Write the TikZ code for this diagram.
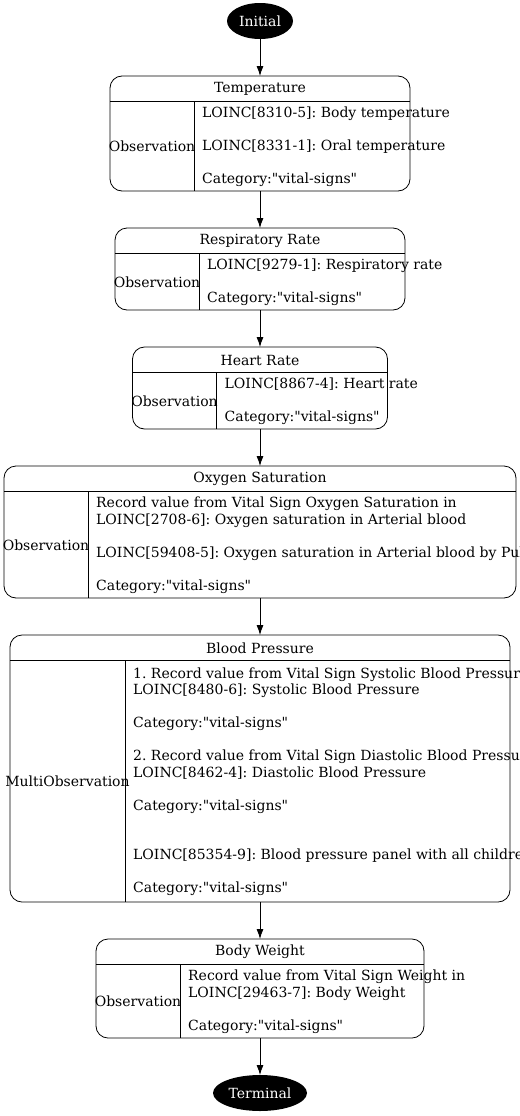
\documentclass[tikz,border=0pt]{standalone}
\usepackage{fontspec}
\setmainfont{DejaVu Serif}[Ligatures=TeXOff]
\usepackage{tikz}
\usetikzlibrary{arrows.meta,positioning,shapes.geometric}
\frenchspacing

\begin{document}
\begin{tikzpicture}[
    node distance=37bp,
    every node/.style={font=\fontsize{14bp}{16.5bp}\selectfont},
    state/.style={draw, rounded corners=12bp, inner sep=0pt, outer sep=0pt,
    line width=0.8bp},
    term/.style={ellipse, fill=black, text=white, inner sep=0pt, outer sep=0pt,
    minimum height=36bp},
    txt/.style={inner sep=0pt, align=left},
    sep/.style={line width=0.8bp},
    arr/.style={-{Latex[length=10bp,width=7bp]}, line width=0.8bp}
]
\useasboundingbox (0,0) rectangle (520bp,-1116bp);
\node[term, minimum width=66bp] (init) at (260bp,-21bp) {Initial};

% Temperature
\node[state, below=of init, minimum width=300bp, minimum height=115bp] (temp) {};
\draw[sep] ([yshift=-25bp]temp.north west) -- ([yshift=-25bp]temp.north east);
\draw[sep] ([shift={(84bp,-25bp)}]temp.north west) -- ([xshift=84bp]temp.south west);
\node[txt] (tempT) at ([yshift=-13bp]temp.north) {Temperature};
\node[txt] (tempL) at ([shift={(42bp,-13bp)}]temp.west) {Observation};
\node[txt, anchor=west] (tempR) at ([shift={(92bp,-13bp)}]temp.west)
  {LOINC[8310-5]: Body temperature\\[16.5bp]
   LOINC[8331-1]: Oral temperature\\[16.5bp]
   Category:"vital-signs"};

% Respiratory Rate
\node[state, below=of temp, minimum width=290bp, minimum height=82bp] (resp) {};
\draw[sep] ([yshift=-25bp]resp.north west) -- ([yshift=-25bp]resp.north east);
\draw[sep] ([shift={(84bp,-25bp)}]resp.north west) -- ([xshift=84bp]resp.south west);
\node[txt] (respT) at ([yshift=-13bp]resp.north) {Respiratory Rate};
\node[txt] (respL) at ([shift={(42bp,-13bp)}]resp.west) {Observation};
\node[txt, anchor=west] (respR) at ([shift={(92bp,-13bp)}]resp.west)
  {LOINC[9279-1]: Respiratory rate\\[16.5bp]
   Category:"vital-signs"};

% Heart Rate
\node[state, below=of resp, minimum width=255bp, minimum height=82bp] (heart) {};
\draw[sep] ([yshift=-25bp]heart.north west) -- ([yshift=-25bp]heart.north east);
\draw[sep] ([shift={(84bp,-25bp)}]heart.north west) -- ([xshift=84bp]heart.south west);
\node[txt] (heartT) at ([yshift=-13bp]heart.north) {Heart Rate};
\node[txt] (heartL) at ([shift={(42bp,-13bp)}]heart.west) {Observation};
\node[txt, anchor=west] (heartR) at ([shift={(92bp,-13bp)}]heart.west)
  {LOINC[8867-4]: Heart rate\\[16.5bp]
   Category:"vital-signs"};

% Oxygen Saturation
\node[state, below=of heart, minimum width=512bp, minimum height=132bp] (oxy) {};
\draw[sep] ([yshift=-25bp]oxy.north west) -- ([yshift=-25bp]oxy.north east);
\draw[sep] ([shift={(84bp,-25bp)}]oxy.north west) -- ([xshift=84bp]oxy.south west);
\node[txt] (oxyT) at ([yshift=-13bp]oxy.north) {Oxygen Saturation};
\node[txt] (oxyL) at ([shift={(42bp,-13bp)}]oxy.west) {Observation};
\node[txt, anchor=west] (oxyR) at ([shift={(92bp,-13bp)}]oxy.west)
  {Record value from Vital Sign Oxygen Saturation in\\
   LOINC[2708-6]: Oxygen saturation in Arterial blood\\[16.5bp]
   LOINC[59408-5]: Oxygen saturation in Arterial blood by Pulse oximetry\\[16.5bp]
   Category:"vital-signs"};

% Blood Pressure
\node[state, below=of oxy, minimum width=500bp, minimum height=267bp] (bp) {};
\draw[sep] ([yshift=-25bp]bp.north west) -- ([yshift=-25bp]bp.north east);
\draw[sep] ([shift={(115bp,-25bp)}]bp.north west) -- ([xshift=115bp]bp.south west);
\node[txt] (bpT) at ([yshift=-13bp]bp.north) {Blood Pressure};
\node[txt] (bpL) at ([shift={(57.5bp,-13bp)}]bp.west) {MultiObservation};
\node[txt, anchor=west] (bpR) at ([shift={(123bp,-13bp)}]bp.west)
  {1. Record value from Vital Sign Systolic Blood Pressure in\\
   LOINC[8480-6]: Systolic Blood Pressure\\[16.5bp]
   Category:"vital-signs"\\[16.5bp]
   2. Record value from Vital Sign Diastolic Blood Pressure in\\
   LOINC[8462-4]: Diastolic Blood Pressure\\[16.5bp]
   Category:"vital-signs"\\[33bp]
   LOINC[85354-9]: Blood pressure panel with all children optional\\[16.5bp]
   Category:"vital-signs"};

% Body Weight
\node[state, below=of bp, minimum width=328bp, minimum height=99bp] (bw) {};
\draw[sep] ([yshift=-25bp]bw.north west) -- ([yshift=-25bp]bw.north east);
\draw[sep] ([shift={(84bp,-25bp)}]bw.north west) -- ([xshift=84bp]bw.south west);
\node[txt] (bwT) at ([yshift=-13bp]bw.north) {Body Weight};
\node[txt] (bwL) at ([shift={(42bp,-13bp)}]bw.west) {Observation};
\node[txt, anchor=west] (bwR) at ([shift={(92bp,-13bp)}]bw.west)
  {Record value from Vital Sign Weight in\\
   LOINC[29463-7]: Body Weight\\[16.5bp]
   Category:"vital-signs"};

\node[term, below=of bw, minimum width=94bp] (final) {Terminal};

\draw[arr] (init) -- (temp);
\draw[arr] (temp) -- (resp);
\draw[arr] (resp) -- (heart);
\draw[arr] (heart) -- (oxy);
\draw[arr] (oxy) -- (bp);
\draw[arr] (bp) -- (bw);
\draw[arr] (bw) -- (final);
\end{tikzpicture}
\end{document}
